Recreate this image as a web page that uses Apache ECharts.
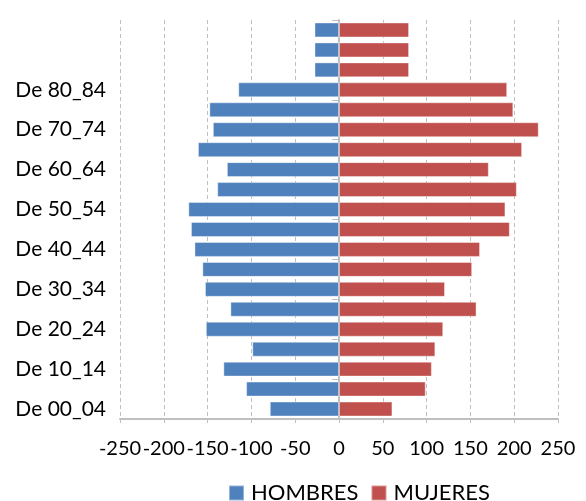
<!DOCTYPE html>
<html>
<head>
<meta charset="utf-8">
<script src="https://cdn.jsdelivr.net/npm/echarts@6/dist/echarts.min.js"></script>
<style>
  html, body { margin: 0; padding: 0; background: #fff; }
  #chart { width: 586px; height: 501px; }
</style>
</head>
<body>
<div id="chart"></div>
<script>
// pirámide de población - hombres / mujeres
const ageGroups = ['De 00_04', 'De 05_09', 'De 10_14', 'De 15_19', 'De 20_24', 'De 25_29',
  'De 30_34', 'De 35_39', 'De 40_44', 'De 45_49', 'De 50_54', 'De 55_59', 'De 60_64',
  'De 65_69', 'De 70_74', 'De 75_79', 'De 80_84', 'De 85_89', 'De 90_94', 'De 95_99']
const hombres = [-79, -106, -132, -99, -152, -124, -153, -156, -165, -169, -172, -139, -128,
  -161, -144, -148, -115, -28, -28, -28]
const mujeres = [61, 99, 106, 110, 119, 157, 121, 152, 161, 195, 190, 203, 171,
  209, 228, 199, 192, 80, 80, 80]
const xTicks = { min: -250, max: 250, interval: 50 }

const font = 'Lato'
const gray = '#BFBFBF'

const chart = echarts.init(document.getElementById('chart'))
const options = {
  animation: false,
  grid: {
    left: 120,
    right: 28,
    top: 20,
    bottom: 82,
  },
  legend: {
    top: 477,
    left: 223,
    data: ['HOMBRES', 'MUJERES'],
    icon: 'rect',
    itemWidth: 15,
    itemHeight: 15,
    itemGap: 12,
    textStyle: {
      color: '#000',
      fontFamily: font,
      fontSize: 22,
      padding: [0, 0, 0, 2],
    },
  },
  xAxis: {
    type: 'value',
    min: xTicks.min,
    max: xTicks.max,
    interval: xTicks.interval,
    axisLine: {
      show: true,
      lineStyle: { color: gray, width: 2 }
    },
    axisTick: {
      show: true,
      length: 4,
      lineStyle: { color: gray }
    },
    axisLabel: {
      color: '#000',
      fontFamily: font,
      fontSize: 20,
      margin: 20,
      showMinLabel: true,
      showMaxLabel: true,
      hideOverlap: false,
    },
    splitLine: {
      show: true,
      lineStyle: { color: gray, type: [4, 3] }
    },
  },
  yAxis: {
    type: 'category',
    data: ageGroups,
    axisLine: {
      show: true,
      lineStyle: { color: gray, width: 2 }
    },
    axisTick: {
      show: true,
      length: 7,
      lineStyle: { color: gray }
    },
    axisLabel: {
      color: '#000',
      fontFamily: font,
      fontSize: 21,
      margin: 14,
      interval: (i) => i % 2 === 0 && i <= 16,
    },
  },
  series: [
    {
      name: 'HOMBRES',
      type: 'bar',
      data: hombres,
      barWidth: '75%',
      barGap: '-100%',
      itemStyle: { color: '#4F81BD', borderColor: 'rgba(255,255,255,0.4)', borderWidth: 1 },
    },
    {
      name: 'MUJERES',
      type: 'bar',
      data: mujeres,
      barWidth: '75%',
      itemStyle: { color: '#C0504D', borderColor: 'rgba(255,255,255,0.4)', borderWidth: 1 },
    },
  ],
}
chart.setOption(options)
</script>
</body>
</html>
